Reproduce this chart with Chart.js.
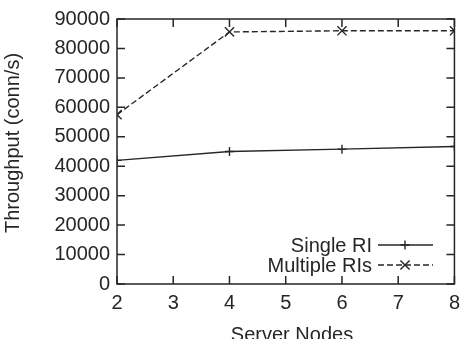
<!DOCTYPE html>
<html>
<head>
<meta charset="utf-8">
<script src="https://cdn.jsdelivr.net/npm/chart.js@4"></script>
<style>
	html, body { margin:0; padding:0; background:#fff; }
	#wrap { width:467px; height:339px; }
</style>
</head>
<body>
<div id="wrap"><canvas id="c" width="467" height="339"></canvas></div>
<script>
// dados
const nodes = [2, 4, 6, 8];
const singleRI = [42000, 45000, 45800, 46700];
const multipleRIs = [57500, 85600, 86000, 86000];
const xTicks = [2, 3, 4, 5, 6, 7, 8];
const yTicks = [0, 10000, 20000, 30000, 40000, 50000, 60000, 70000, 80000, 90000];
const seriesNames = ['Single RI', 'Multiple RIs'];
const xTitle = 'Server Nodes';
const yTitle = 'Throughput (conn/s)';

const FONT = 'Liberation Sans, Arial, Helvetica, sans-serif';
const INK = '#262626';

// moldura estilo gnuplot: borda nos 4 lados + ticks para dentro
const frameTicks = {
	id: 'frameTicks',
	afterDraw(chart){
		const {ctx, chartArea:{left,right,top,bottom}, scales:{x,y}} = chart;
		const len = 8;
		ctx.save();
		ctx.strokeStyle = INK; ctx.lineWidth = 1.5;
		ctx.strokeRect(left, top, right-left, bottom-top);
		ctx.beginPath();
		for (const v of xTicks){
			const px = x.getPixelForValue(v);
			ctx.moveTo(px, bottom); ctx.lineTo(px, bottom-len);
			ctx.moveTo(px, top); ctx.lineTo(px, top+len);
		}
		for (const v of yTicks){
			const py = y.getPixelForValue(v);
			ctx.moveTo(left, py); ctx.lineTo(left+len, py);
			ctx.moveTo(right, py); ctx.lineTo(right-len, py);
		}
		ctx.stroke();

		// títulos dos eixos
		ctx.fillStyle = INK;
		ctx.font = '20px ' + FONT;
		ctx.textAlign = 'center';
		ctx.textBaseline = 'alphabetic';
		ctx.fillText(xTitle, 292, 341);
		ctx.translate(13, 143);
		ctx.rotate(-Math.PI/2);
		ctx.textBaseline = 'middle';
		ctx.fillText(yTitle, 0, 0);
		ctx.restore();
	}
};

// legenda dentro do gráfico, canto inferior direito
const keyLegend = {
	id: 'keyLegend',
	afterDraw(chart){
		const {ctx} = chart;
		const rows = [245, 265];
		ctx.save();
		ctx.font = '20px ' + FONT;
		ctx.textAlign = 'right';
		ctx.textBaseline = 'middle';
		chart.data.datasets.forEach((ds, i)=>{
			const yy = rows[i];
			ctx.fillStyle = INK;
			ctx.fillText(ds.label, 372, yy+1);
			ctx.strokeStyle = ds.borderColor; ctx.lineWidth = ds.borderWidth;
			ctx.setLineDash(ds.borderDash || []);
			ctx.beginPath(); ctx.moveTo(378, yy); ctx.lineTo(433, yy); ctx.stroke();
			ctx.setLineDash([]);
			Chart.helpers.drawPoint(ctx, {pointStyle: ds.pointStyle, radius: ds.pointRadius, borderWidth: ds.pointBorderWidth}, 405, yy);
		});
		ctx.restore();
	}
};

const ctx = document.getElementById('c').getContext('2d');
new Chart(ctx, {
	type: 'line',
	data: {
		datasets: [
			{ label: seriesNames[0], data: nodes.map((n,i)=>({x:n, y:singleRI[i]})),
				borderColor: INK, borderWidth: 1.4, pointStyle: 'cross', pointRadius: 4.5,
				pointBorderWidth: 1.4, pointBorderColor: INK, pointBackgroundColor: INK, tension: 0, fill: false },
			{ label: seriesNames[1], data: nodes.map((n,i)=>({x:n, y:multipleRIs[i]})),
				borderColor: INK, borderWidth: 1.4, borderDash: [6,3], pointStyle: 'crossRot', pointRadius: 6.5,
				pointBorderWidth: 1.4, pointBorderColor: INK, pointBackgroundColor: INK, tension: 0, fill: false }
		]
	},
	options: {
		responsive: false, animation: false, devicePixelRatio: 1,
		layout: { padding: { top: 9, right: 9, left: 0, bottom: 0 } },
		plugins: { legend: { display: false }, tooltip: { enabled: false } },
		scales: {
			x: {
				type: 'linear', min: 2, max: 8,
				afterFit(s){ s.height = 55; },
				afterBuildTicks(s){ s.ticks = xTicks.map(v=>({value:v})); },
				grid: { display: false, drawTicks: false },
				border: { display: false },
				ticks: { color: INK, font: { family: FONT, size: 20 }, padding: 7, maxRotation: 0 }
			},
			y: {
				min: 0, max: 90000,
				afterFit(s){ s.width = 117; },
				afterBuildTicks(s){ s.ticks = yTicks.map(v=>({value:v})); },
				grid: { display: false, drawTicks: false },
				border: { display: false },
				ticks: { color: INK, font: { family: FONT, size: 20 }, padding: 7, callback: v => String(v) }
			}
		}
	},
	plugins: [frameTicks, keyLegend]
});
</script>
</body>
</html>
